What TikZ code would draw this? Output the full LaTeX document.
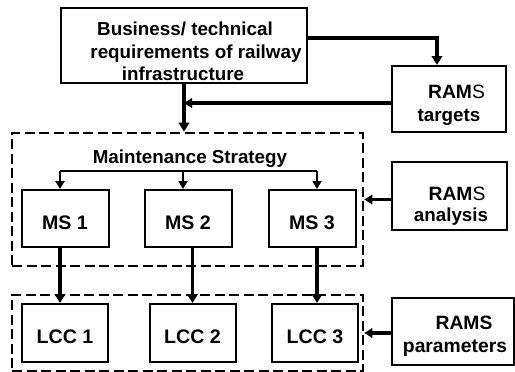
\documentclass[tikz,border=0pt]{standalone}
\usepackage{fontspec}
\setmainfont{Liberation Sans}
\usetikzlibrary{arrows.meta}
\begin{document}
\begin{tikzpicture}[x=1pt,y=-1pt,
  box/.style={draw,line width=2pt,inner sep=0pt},
  group/.style={draw,line width=2.7pt,dash pattern=on 10pt off 4.5pt,inner sep=0pt},
  txt/.style={font=\fontsize{18.8}{22}\selectfont\bfseries,inner sep=0pt,anchor=base},
  big/.style={font=\fontsize{19.3}{22}\selectfont\bfseries,inner sep=0pt,anchor=base},
  lbl/.style={box,font=\fontsize{19.6}{22}\selectfont\bfseries,text height=21pt,text depth=0pt},
  msbox/.style={lbl,minimum width=87pt,minimum height=57pt},
  lccbox/.style={lbl,minimum width=86pt,minimum height=58pt},
  flow/.style={line width=3.6pt,-{Triangle[width=10.5pt,length=9pt]}},
  branch/.style={line width=2.3pt,-{Triangle[width=9pt,length=8pt]}},
  feed/.style={line width=3.2pt,-{Triangle[width=9.5pt,length=8pt]}}
]
\useasboundingbox (0,0) rectangle (515,372);

% requirements box
\node[box,minimum width=246pt,minimum height=75pt] (req) at (184,45.5) {};
\node[txt] (reqA) at (185,35) {Business/ technical};
\node[txt] (reqB) at (196,58) {requirements of railway};
\node[txt] (reqC) at (183,81) {infrastructure};

% RAMS boxes on the right
\node[box,minimum width=114pt,minimum height=66pt] (targets) at (449,99) {};
\node[big] (tgA) at (456.5,98) {RAM{\mdseries S}};
\node[txt] (tgB) at (449,121) {targets};

\node[box,minimum width=115pt,minimum height=68pt] (analysis) at (449.5,196) {};
\node[big] (anA) at (457,200) {RAM{\mdseries S}};
\node[txt] (anB) at (451,221) {analysis};

\node[box,minimum width=122pt,minimum height=67pt] (params) at (453,331.5) {};
\node[big] (paA) at (464,329) {RAMS};
\node[big] (paB) at (455,352) {parameters};

% dashed groups
\node[group,minimum width=351pt,minimum height=133pt] (msgroup) at (187.5,199.5) {};
\node[group,minimum width=351pt,minimum height=76pt] (lccgroup) at (187.5,333) {};

\node[txt] (mstext) at (190,163) {Maintenance Strategy};

% maintenance strategies
\node[msbox] (ms1) at (65,218.5) {MS 1};
\node[msbox] (ms2) at (188,218.5) {MS 2};
\node[msbox] (ms3) at (312,218.5) {MS 3};

% life cycle costs
\node[lccbox] (lcc1) at (65,333) {LCC 1};
\node[lccbox] (lcc2) at (192.5,333) {LCC 2};
\node[lccbox] (lcc3) at (315,333) {LCC 3};

% connectors
\draw[line width=3.8pt,-{Triangle[width=10.5pt,length=9pt]}]
  ([yshift=7.5pt]req.east) -| ([xshift=-12pt]targets.north);
\coordinate (join) at ([yshift=-4pt]targets.west -| req.south);
\draw[feed] ([yshift=-4pt]targets.west) -- (join);
\draw[flow] (req.south) -- (req.south |- msgroup.north);

\coordinate (barL) at (60,171);
\coordinate (barM) at (183,171);
\coordinate (barR) at (317,171);
\draw[line width=2.3pt] (barL) -- (barR);
\draw[branch] (barL) -- (barL |- ms1.north);
\draw[branch] (barM) -- (barM |- ms2.north);
\draw[branch] (barR) -- (barR |- ms3.north);

\draw[flow] ([xshift=-5pt]ms1.south) -- ([xshift=-5pt]lcc1.north);
\draw[flow] (ms2.south -| lcc2.north) -- (lcc2.north);
\draw[flow] ([xshift=5pt]ms3.south) -- ([xshift=5pt]ms3.south |- lcc3.north);

\draw[feed] ([yshift=-3.5pt]analysis.west) -- ([yshift=-3.5pt]analysis.west -| msgroup.east);
\draw[feed] ([yshift=-1.5pt]params.west) -- ([yshift=-1.5pt]params.west -| lccgroup.east);
\end{tikzpicture}
\end{document}
